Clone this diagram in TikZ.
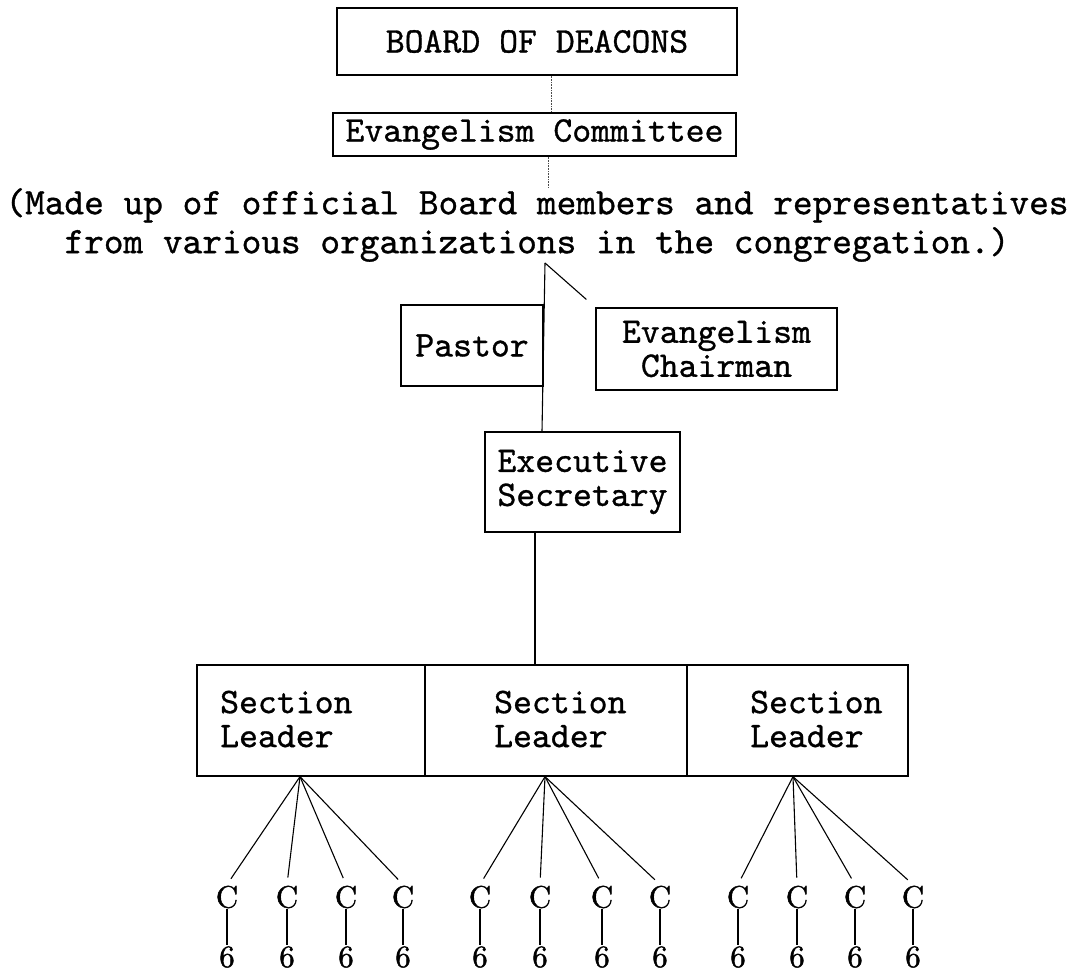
\documentclass[tikz,border=0pt]{standalone}
\usepackage{fontspec}
\setmonofont[FakeBold=0.9]{lmmono10-regular.otf}
\newfontfamily\cfam[FakeBold=1.2]{lmroman10-regular.otf}
\usetikzlibrary{calc}
\newcommand\twfont{\ttfamily\fontsize{36}{34}\selectfont}
\newcommand\notefont{\ttfamily\fontsize{37.5}{39}\selectfont}
\newcommand\cfont{\cfam\fontsize{31}{30}\selectfont}
\begin{document}
\begin{tikzpicture}[x=1pt,y=-1pt,
  box/.style={draw, line width=1.3pt, inner sep=0pt, align=center, font=\twfont},
  txt/.style={inner sep=0pt, align=left, font=\twfont, anchor=west},
  cnode/.style={inner sep=1pt, font=\cfont},
  conn/.style={line width=1.1pt},
  faint/.style={line width=0.6pt, densely dotted, black!70},
  fan/.style={line width=1.1pt, shorten >=7pt}]
\useasboundingbox (0,0) rectangle (1079,974);

\node[box, minimum width=400, minimum height=67] (board) at (537,41.5) {BOARD OF DEACONS};
\node[box, minimum width=403, minimum height=43] (comm) at (534.5,134.5) {Evangelism Committee};
\node[inner sep=0pt, align=center, font=\notefont] (note) at (537,225)
  {(Made up of official Board members and representatives\\from various organizations in the congregation.)};

\node[box, minimum width=142, minimum height=81] (pastor) at (472,345.5) {Pastor};
\node[box, minimum width=241, minimum height=82] (chair) at (716.5,349) {Evangelism\\Chairman};
\node[box, minimum width=195, minimum height=100] (exec) at (582.5,482) {Executive\\Secretary};

\node[box, minimum width=228, minimum height=111] (s1) at (311,720.5) {};
\node[box, minimum width=262, minimum height=111] (s2) at (556,720.5) {};
\node[box, minimum width=221, minimum height=111] (s3) at (797.5,720.5) {};
\node[txt] (t1) at (220,719) {Section\\Leader};
\node[txt] (t2) at (494,719) {Section\\Leader};
\node[txt] (t3) at (750,719) {Section\\Leader};

\draw[faint] ([xshift=14pt]board.south) -- ([xshift=14pt]board.south |- comm.north);
\draw[faint] ([xshift=13.5pt]comm.south) -- ([xshift=13.5pt]comm.south |- note.north);

\coordinate (apex) at (545,263);
\draw[conn] (apex) -- ([xshift=-40.5pt]exec.north);
\draw[conn, shorten >=12pt] (apex) -- (chair.north west);
\draw[conn] ([xshift=-47.5pt]exec.south) -- ([xshift=-47.5pt]exec.south |- s2.north);

\coordinate (f1) at ([xshift=-11pt]s1.south);
\coordinate (f2) at ([xshift=-11pt]s2.south);
\coordinate (f3) at ([xshift=-4.5pt]s3.south);

\foreach \n/\x in {11/227,12/287,13/346,14/403,21/480,22/540,23/602,24/660,31/738,32/797,33/855,34/913}{
  \node[cnode] (c\n) at (\x,897) {C};
  \node[cnode] (n\n) at (\x,957) {6};
  \draw[conn] (c\n.south) -- (n\n.north);
}
\foreach \g in {1,2,3}{
  \foreach \k in {1,...,4}{
    \draw[fan] (f\g) -- (c\g\k.north);
  }
}
\end{tikzpicture}
\end{document}
